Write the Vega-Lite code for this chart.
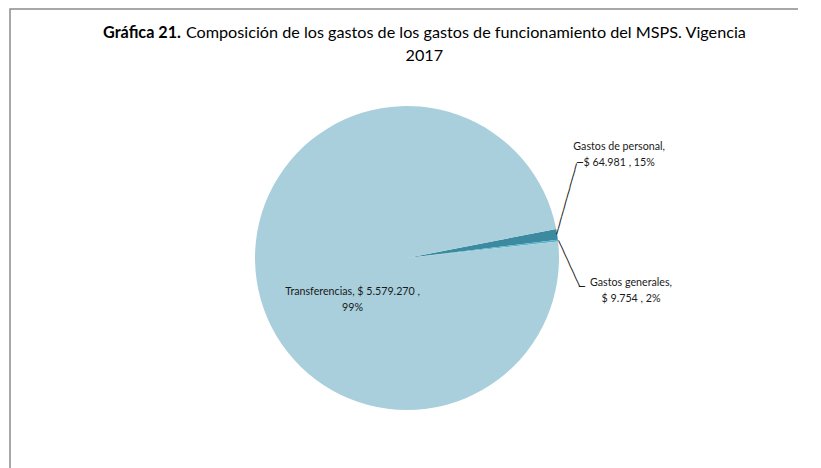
{
  "$schema": "https://vega.github.io/schema/vega-lite/v6.json",
  "width": 794,
  "height": 498,
  "autosize": {"type": "none"},
  "padding": {"left": 10, "top": 9, "right": 0, "bottom": 0},
  "background": "white",
  "view": {"stroke": "#8c8c8c", "strokeWidth": 1.5, "strokeDash": [788, 1298, 498]},
  "title": {
    "text": "Gráfica 21.",
    "subtitle": ["\u200b\u00a0\u00a0\u00a0\u00a0\u00a0\u00a0\u00a0\u00a0\u00a0\u00a0\u00a0\u00a0\u00a0\u00a0\u00a0\u00a0\u00a0\u00a0\u00a0\u00a0Composición de los gastos de los gastos de funcionamiento del MSPS. Vigencia", "\u200b\u00a0\u00a0\u00a0\u00a0\u00a0\u00a0\u00a0\u00a0\u00a0\u00a0\u00a0\u00a0\u00a0\u00a0\u00a0\u00a0\u00a0\u00a0\u00a0\u00a0\u00a0\u00a0\u00a0\u00a0\u00a0\u00a0\u00a0\u00a0\u00a0\u00a0\u00a0\u00a0\u00a0\u00a0\u00a0\u00a0\u00a0\u00a0\u00a0\u00a0\u00a0\u00a0\u00a0\u00a0\u00a0\u00a0\u00a0\u00a0\u00a0\u00a0\u00a0\u00a0\u00a0\u00a0\u00a0\u00a0\u00a0\u00a0\u00a0\u00a0\u00a0\u00a0\u00a0\u00a0\u00a0\u00a0\u00a0\u00a0\u00a0\u00a0\u00a0\u00a0\u00a02017"],
    "anchor": "start",
    "frame": "group",
    "dx": 93,
    "offset": -55,
    "font": "Lato",
    "fontSize": 16.2,
    "fontWeight": "bold",
    "color": "#000000",
    "subtitleFont": "Lato",
    "subtitleFontSize": 16.2,
    "subtitleFontWeight": "normal",
    "subtitleColor": "#000000",
    "subtitleLineHeight": 23,
    "subtitlePadding": -16.2
  },
  "data": {
    "values": [
      {"concepto": "Gastos de personal", "valor": 64981, "etiqueta": "Gastos de personal,\n$ 64.981 , 15%"},
      {"concepto": "Gastos generales", "valor": 9754, "etiqueta": "Gastos generales,\n$ 9.754 , 2%"},
      {"concepto": "Transferencias", "valor": 5579270, "etiqueta": "Transferencias, $ 5.579.270 ,\n99%"}
    ]
  },
  "encoding": {
    "theta": {"field": "valor", "type": "quantitative", "stack": true, "scale": {"range": [1.3788, 7.662]}},
    "color": {
      "field": "concepto",
      "type": "nominal",
      "scale": {"domain": ["Gastos de personal", "Gastos generales", "Transferencias"], "range": ["#3B8AA0", "#55B2CB", "#A9CFDC"]},
      "legend": null
    }
  },
  "layer": [
    {"mark": {"type": "arc", "outerRadius": 152}},
    {
      "mark": {"type": "text", "radius": 50, "dx": -5, "dy": 27, "font": "Lato", "fontSize": 10.7, "lineHeight": 16, "lineBreak": "\n", "align": "center", "baseline": "middle"},
      "encoding": {
        "color": {"value": "#1a1a1a"},
        "detail": {"field": "concepto"},
        "text": {"condition": {"test": "datum.concepto === 'Transferencias'", "field": "etiqueta"}, "value": ""}
      }
    },
    {
      "mark": {"type": "text", "radius": 152, "dx": 62, "dy": -87, "font": "Lato", "fontSize": 10.7, "lineHeight": 16, "lineBreak": "\n", "align": "center", "baseline": "middle"},
      "encoding": {
        "color": {"value": "#1a1a1a"},
        "detail": {"field": "concepto"},
        "text": {"condition": {"test": "datum.concepto === 'Gastos de personal'", "field": "etiqueta"}, "value": ""}
      }
    },
    {
      "mark": {"type": "text", "radius": 152, "dx": 73, "dy": 42, "font": "Lato", "fontSize": 10.7, "lineHeight": 16, "lineBreak": "\n", "align": "center", "baseline": "middle"},
      "encoding": {
        "color": {"value": "#1a1a1a"},
        "detail": {"field": "concepto"},
        "text": {"condition": {"test": "datum.concepto === 'Gastos generales'", "field": "etiqueta"}, "value": ""}
      }
    },
    {
      "mark": {"type": "text", "radius": 152, "angle": 285.7, "font": "DejaVu Sans Mono", "fontSize": 10.2, "align": "left", "baseline": "middle"},
      "encoding": {
        "color": {"value": "#000000"},
        "detail": {"field": "concepto"},
        "text": {"condition": {"test": "datum.concepto === 'Gastos de personal'", "value": "\u2500\u2500\u2500\u2500\u2500\u2500\u2500\u2500\u2500\u2500\u2500\u2500"}, "value": ""}
      }
    },
    {
      "mark": {"type": "text", "radius": 152, "dx": 19.8, "dy": -71.4, "font": "DejaVu Sans Mono", "fontSize": 10, "align": "left", "baseline": "middle"},
      "encoding": {
        "color": {"value": "#000000"},
        "detail": {"field": "concepto"},
        "text": {"condition": {"test": "datum.concepto === 'Gastos de personal'", "value": "\u2500"}, "value": ""}
      }
    },
    {
      "mark": {"type": "text", "radius": 152, "angle": 65.5, "font": "DejaVu Sans Mono", "fontSize": 10.5, "align": "left", "baseline": "middle"},
      "encoding": {
        "color": {"value": "#000000"},
        "detail": {"field": "concepto"},
        "text": {"condition": {"test": "datum.concepto === 'Gastos generales'", "value": "\u2500\u2500\u2500\u2500\u2500\u2500\u2500\u2500"}, "value": ""}
      }
    },
    {
      "mark": {"type": "text", "radius": 152, "dx": 21.1, "dy": 46.3, "font": "DejaVu Sans Mono", "fontSize": 10, "align": "left", "baseline": "middle"},
      "encoding": {
        "color": {"value": "#000000"},
        "detail": {"field": "concepto"},
        "text": {"condition": {"test": "datum.concepto === 'Gastos generales'", "value": "\u2500"}, "value": ""}
      }
    }
  ],
  "config": {
    "view": {"stroke": "#8c8c8c", "strokeWidth": 1.5, "strokeDash": [788, 1298, 498]}
  }
}
